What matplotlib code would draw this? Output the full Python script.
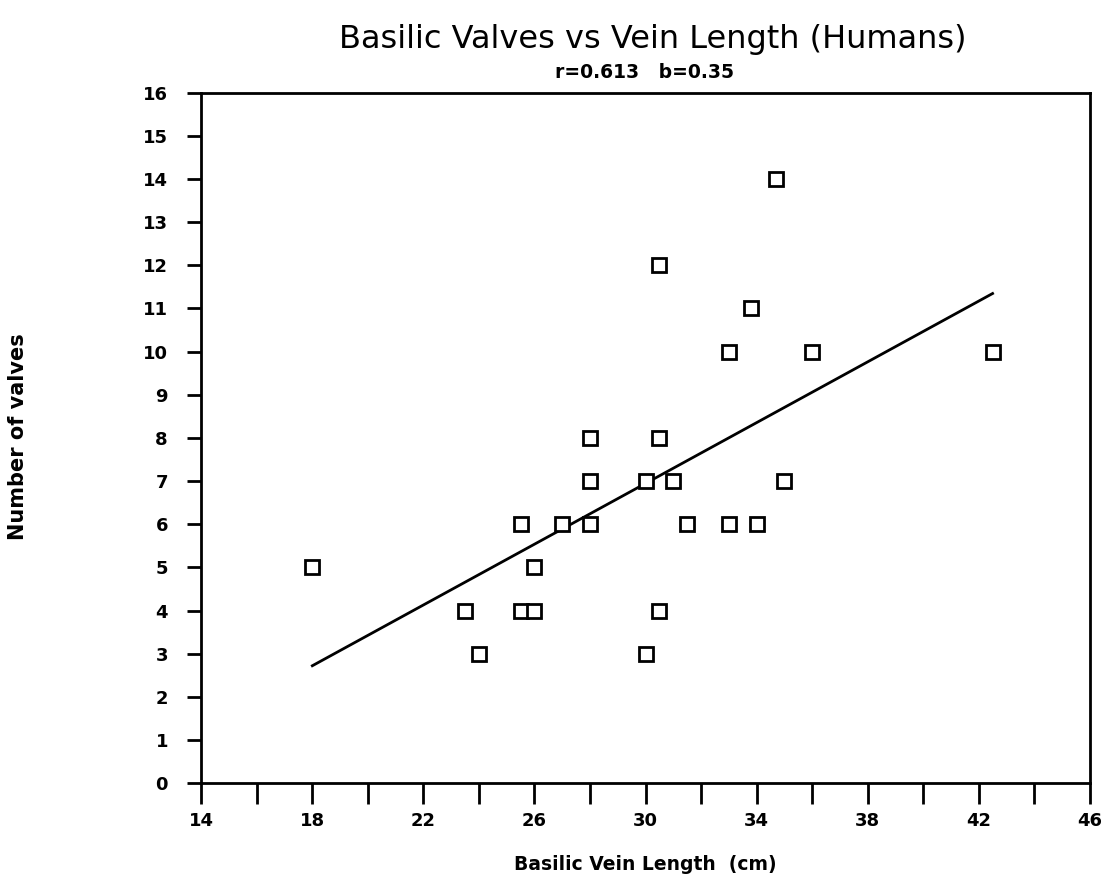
import numpy as np
import matplotlib.pyplot as plt
from matplotlib.ticker import FixedLocator, MultipleLocator

# vein length (cm) and number of valves
vein_length = [18, 23.5, 24, 25.5, 25.5, 26, 26, 27, 28, 28, 28, 30, 30,
               30.5, 30.5, 30.5, 31, 31.5, 33, 33, 33.8, 34, 34.7, 35, 36, 42.5]
valves = [5, 4, 3, 6, 4, 4, 5, 6, 6, 7, 8, 3, 7,
          4, 8, 12, 7, 6, 6, 10, 11, 6, 14, 7, 10, 10]
x_major = [14, 18, 22, 26, 30, 34, 38, 42, 46]
x_minor = [16, 20, 24, 28, 32, 36, 40, 44]

title = 'Basilic Valves vs Vein Length (Humans)'
subtitle = 'r=0.613   b=0.35'

x = np.array(vein_length)
y = np.array(valves)

fig = plt.figure(figsize=(11.12, 8.82), dpi=100)
ax = fig.add_axes([0.181, 0.112, 0.799, 0.783])

# data points
ax.plot(x, y, 's', markersize=9.5, markerfacecolor='white',
        markeredgecolor='black', markeredgewidth=2, zorder=3)

# least squares line across the data range
slope, intercept = np.polyfit(x, y, 1)
xl = np.array([x.min(), x.max()])
ax.plot(xl, intercept + slope * xl, color='black', linewidth=2)

ax.set_xlim(14, 46)
ax.set_ylim(0, 16)
ax.xaxis.set_major_locator(FixedLocator(x_major))
ax.xaxis.set_minor_locator(FixedLocator(x_minor))
ax.yaxis.set_major_locator(MultipleLocator(1))

for s in ax.spines.values():
    s.set_linewidth(2)
ax.tick_params(axis='y', direction='out', width=2, length=10,
               labelsize=13, pad=14)
ax.tick_params(axis='x', which='both', direction='out', width=2, length=15,
               labelsize=13, pad=6)
for lab in ax.get_xticklabels() + ax.get_yticklabels():
    lab.set_fontweight('bold')

fig.text(0.587, 0.955, title, ha='center', va='center', fontsize=23)
fig.text(0.58, 0.918, subtitle, ha='center', va='center', fontsize=13.5,
         fontweight='bold')
ax.set_xlabel('Basilic Vein Length  (cm)', fontsize=13.5, fontweight='bold',
              labelpad=18)
fig.text(0.016, 0.505, 'Number of valves', rotation=90, ha='center',
         va='center', fontsize=15, fontweight='bold')

fig.savefig('out.png', dpi=100)
